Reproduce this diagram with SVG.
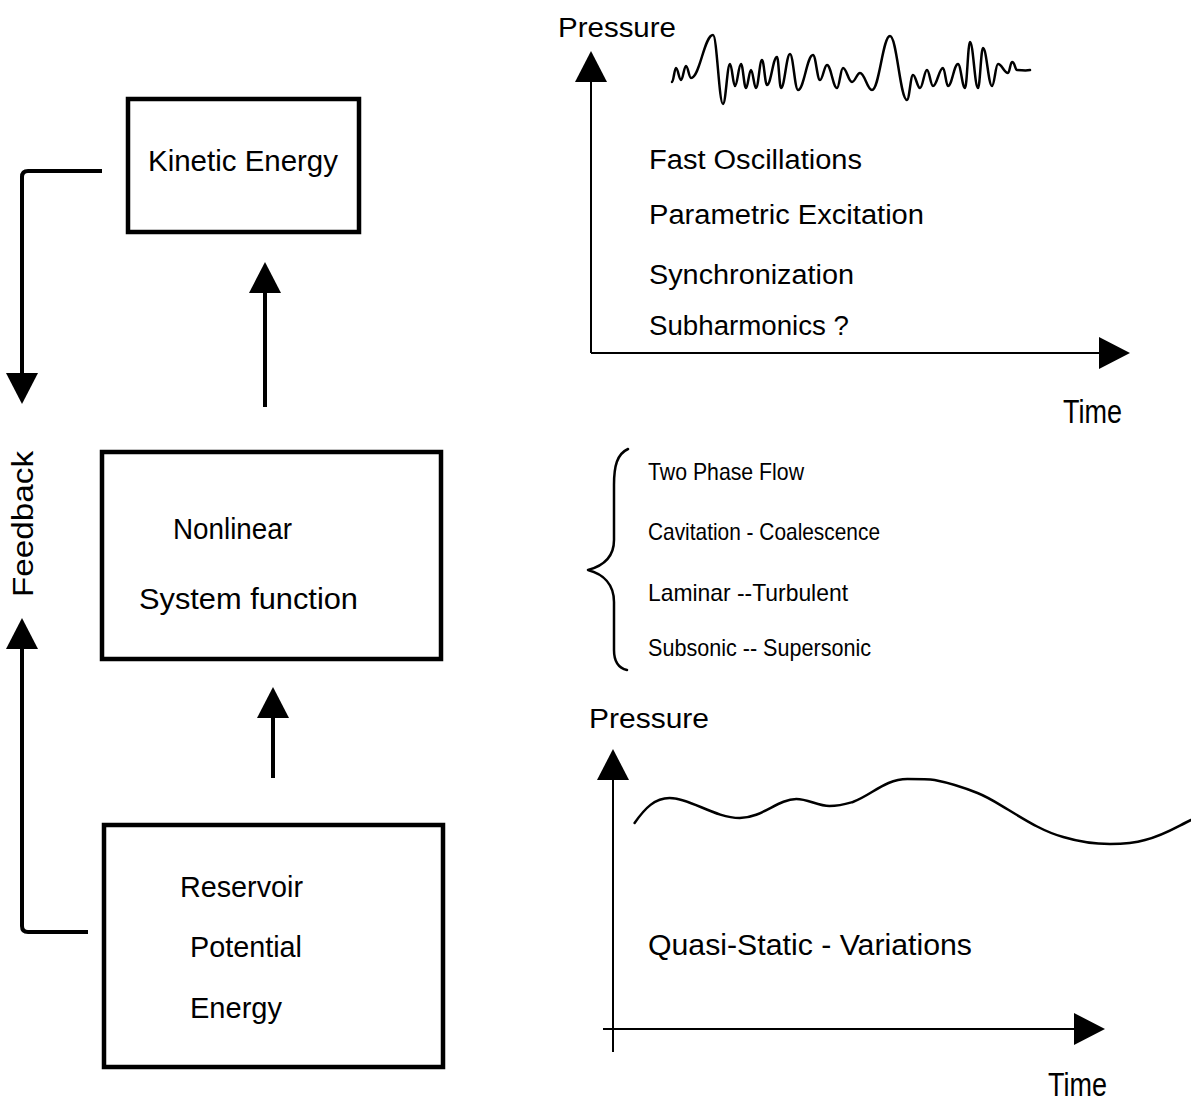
<svg xmlns="http://www.w3.org/2000/svg" width="1191" height="1105" viewBox="0 0 1191 1105">
  <style>
    .box { fill: #fff; stroke: #000; stroke-width: 4.5; }
    .lbl { font-family: "Liberation Sans", Arial, sans-serif; fill: #000; }
    .big { font-size: 30px; }
    .mid { font-size: 27px; }
    .sml { font-size: 24px; }
    .tall { font-size: 33px; }
    .wire { fill: none; stroke: #000; stroke-width: 4; stroke-linecap: butt; stroke-linejoin: round; }
    .axis { fill: none; stroke: #000; stroke-width: 2; }
    .curve { fill: none; stroke: #000; stroke-width: 2.5; stroke-linejoin: round; stroke-linecap: round; }
  </style>
  <defs>
    <marker id="head" markerUnits="userSpaceOnUse" markerWidth="34" markerHeight="34" refX="0" refY="16" orient="auto" viewBox="0 0 34 34">
      <path d="M0,0 L31,16 L0,32 Z" fill="#000"/>
    </marker>
  </defs>
  <rect width="1191" height="1105" fill="#fff"/>

  <!-- block chain on the left -->
  <g id="kinetic-energy">
    <rect class="box" x="128" y="99" width="231" height="133"/>
    <text class="lbl big" x="148" y="171" textLength="190" lengthAdjust="spacingAndGlyphs">Kinetic Energy</text>
  </g>
  <g id="system-function">
    <rect class="box" x="102" y="452" width="339" height="207"/>
    <text class="lbl big" x="173" y="539" textLength="119" lengthAdjust="spacingAndGlyphs">Nonlinear</text>
    <text class="lbl big" x="139" y="609" textLength="219" lengthAdjust="spacingAndGlyphs">System  function</text>
  </g>
  <g id="reservoir">
    <rect class="box" x="104" y="825" width="339" height="242"/>
    <text class="lbl big" x="180" y="897" textLength="123" lengthAdjust="spacingAndGlyphs">Reservoir</text>
    <text class="lbl big" x="190" y="957" textLength="112" lengthAdjust="spacingAndGlyphs">Potential</text>
    <text class="lbl big" x="190" y="1018" textLength="92" lengthAdjust="spacingAndGlyphs">Energy</text>
  </g>
  <g id="feedback-label">
    <text class="lbl big" transform="translate(33,597) rotate(-90)" textLength="146" lengthAdjust="spacingAndGlyphs">Feedback</text>
  </g>

  <g id="connectors">
    <path class="wire" d="M265,407 L265,293" marker-end="url(#head)"/>
    <path class="wire" d="M273,778 L273,718" marker-end="url(#head)"/>
    <path class="wire" d="M102,171 L28,171 Q22,171 22,177 L22,373" marker-end="url(#head)"/>
    <path class="wire" d="M88,932 L28,932 Q22,932 22,926 L22,649" marker-end="url(#head)"/>
  </g>

  <!-- fast pressure record -->
  <g id="fast-plot">
    <text class="lbl mid" x="558" y="37" textLength="118" lengthAdjust="spacingAndGlyphs">Pressure</text>
    <path class="axis" d="M591,353 L591,82" marker-end="url(#head)"/>
    <path class="axis" d="M591,353 L1099,353" marker-end="url(#head)"/>
    <text class="lbl tall" x="1063" y="423" textLength="59" lengthAdjust="spacingAndGlyphs">Time</text>
    <path class="curve" d="M672,82 C673.6,82 674.4,68 676,68 C678,68 679,80 681,80 C683,80 684,66 686,66 C688,66 689,78 691,78 C699.8,78 704.2,35 713,35 C717,35 719,104 723,104 C725.8,104 727.2,64 730,64 C732,64 733,86 735,86 C737.4,86 738.6,64 741,64 C743,64 744,88 746,88 C748,88 749,70 751,70 C753,70 754,88 756,88 C758.4,88 759.6,60 762,60 C764,60 765,85 767,85 C771,85 773,57 777,57 C778.6,57 779.4,88 781,88 C784.6,88 786.4,54 790,54 C793.2,54 794.8,90 798,90 C804,90 807,55 813,55 C815.8,55 817.2,80 820,80 C822.8,80 824.2,65 827,65 C831,65 833,88 837,88 C839.4,88 840.6,68 843,68 C846.6,68 848.4,82 852,82 C855.2,82 856.8,73 860,73 C864.8,73 867.2,90 872,90 C879.2,90 882.8,36 890,36 C896.8,36 900.2,100 907,100 C909.4,100 910.6,75 913,75 C915.8,75 917.2,88 920,88 C922.8,88 924.2,70 927,70 C929.4,70 930.6,86 933,86 C937,86 939,68 943,68 C945,68 946,86 948,86 C952,86 954,64 958,64 C960.8,64 962.2,88 965,88 C967,88 968,42 970,42 C973.2,42 974.8,88 978,88 C980,88 981,48 983,48 C986.6,48 988.4,86 992,86 C994.4,86 995.6,64 998,64 C1002,64 1004,73 1008,73 C1009.6,73 1010.4,62 1012,62 C1015,62 1015,70 1017,70 C1022.2,70 1025,71 1030,70"/>
    <text class="lbl mid" x="649" y="169" textLength="213" lengthAdjust="spacingAndGlyphs">Fast  Oscillations</text>
    <text class="lbl mid" x="649" y="224" textLength="275" lengthAdjust="spacingAndGlyphs">Parametric Excitation</text>
    <text class="lbl mid" x="649" y="284" textLength="205" lengthAdjust="spacingAndGlyphs">Synchronization</text>
    <text class="lbl mid" x="649" y="335" textLength="200" lengthAdjust="spacingAndGlyphs">Subharmonics ?</text>
  </g>

  <!-- flow regimes -->
  <g id="regimes">
    <path class="curve" d="M628,449 C617,454 614,466 614,485 L614,540 C614,558 603,566 588,570 C603,574 614,584 614,602 L614,650 C614,662 618,668 627,670"/>
    <text class="lbl sml" x="648" y="480" textLength="156" lengthAdjust="spacingAndGlyphs">Two Phase Flow</text>
    <text class="lbl sml" x="648" y="540" textLength="232" lengthAdjust="spacingAndGlyphs">Cavitation - Coalescence</text>
    <text class="lbl sml" x="648" y="601" textLength="200" lengthAdjust="spacingAndGlyphs">Laminar  --Turbulent</text>
    <text class="lbl sml" x="648" y="656" textLength="223" lengthAdjust="spacingAndGlyphs">Subsonic -- Supersonic</text>
  </g>

  <!-- slow pressure record -->
  <g id="slow-plot">
    <text class="lbl mid" x="589" y="728" textLength="120" lengthAdjust="spacingAndGlyphs">Pressure</text>
    <path class="axis" d="M613,1052 L613,780" marker-end="url(#head)"/>
    <path class="axis" d="M603,1029 L1074,1029" marker-end="url(#head)"/>
    <text class="lbl tall" x="1048" y="1096" textLength="59" lengthAdjust="spacingAndGlyphs">Time</text>
    <path class="curve" d="M634.6,823 C645,808 655,798 669.6,798 C690,798 715,818 739.8,818 C762,818 778,799 796.3,799 C808,799 818,806 829.4,806 C840,806 846,804 852.8,802 C872,795 885,779 907.4,779 C920,779 928,779 934.6,780 C950,783 965,788 977.5,793 C990,798 1000,805 1008.7,810 C1030,823 1045,832 1063.2,837 C1080,842 1095,844 1110,844 C1125,844 1135,843 1145,840 C1165,835 1178,826 1191,820"/>
    <text class="lbl big" x="648" y="955" textLength="324" lengthAdjust="spacingAndGlyphs">Quasi-Static - Variations</text>
  </g>
</svg>
